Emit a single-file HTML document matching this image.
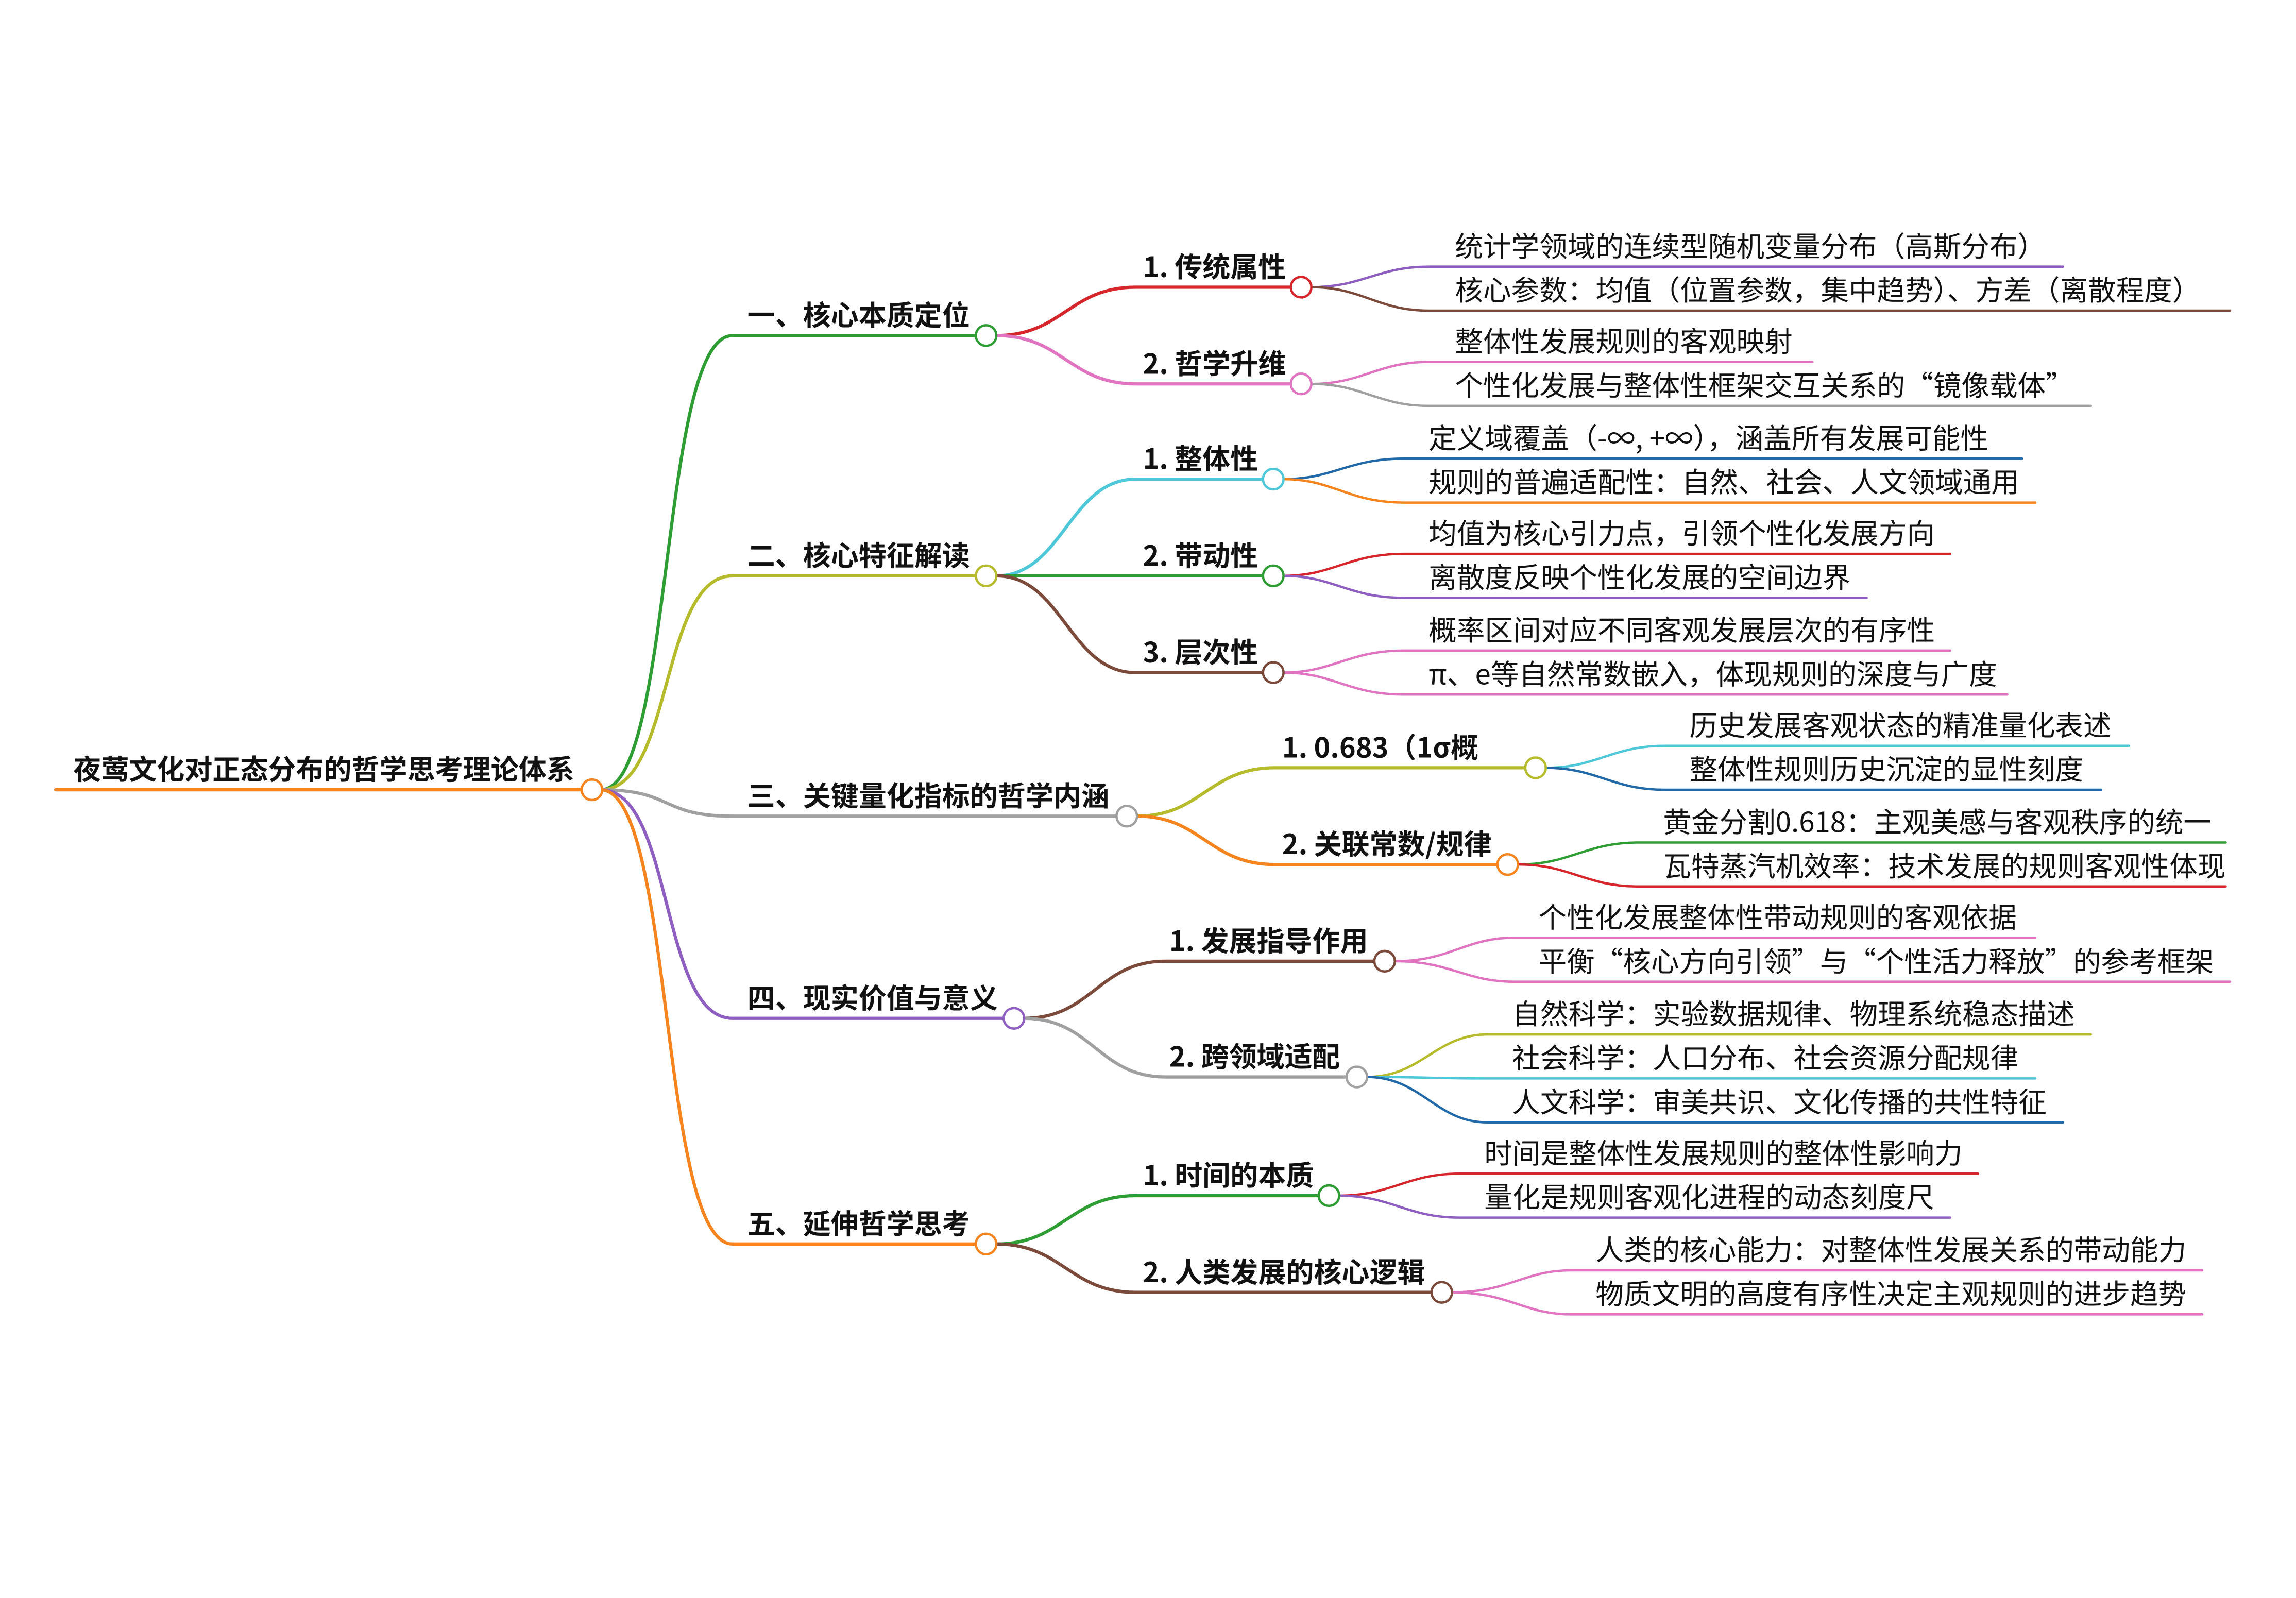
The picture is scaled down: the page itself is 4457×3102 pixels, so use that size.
<!DOCTYPE html>
<html><head><meta charset="utf-8"><style>
html,body{margin:0;padding:0;background:#fff;}
svg{display:block;}
text{font-family:"Noto Sans CJK SC","Liberation Sans",sans-serif;fill:#111;}
.b{font-weight:bold;font-size:19px;}
.l{font-size:19.2px;}
path{fill:none;stroke-linecap:round;}
.t1{stroke-width:2.2;}
.t3{stroke-width:1.6;}
circle{fill:#fff;stroke-width:1.6;}
</style></head><body>
<svg width="4457" height="3102" viewBox="0 0 1567 1090.6" xmlns="http://www.w3.org/2000/svg">
<path class="t1" d="M38,539 H398" stroke="#f5841f"/>
<text class="b" x="50" y="532">夜莺文化对正态分布的哲学思考理论体系</text>
<path class="t1" stroke="#2e9e34" d="M410,539 C 460,539 450,229 500,229 H666"/>
<path class="t1" stroke="#b6bb2b" d="M410,539 C 460,539 450,393 500,393 H666"/>
<path class="t1" stroke="#a0a0a0" d="M410,539 C 460,539 450,557 500,557 H762"/>
<path class="t1" stroke="#8e5fc0" d="M410,539 C 460,539 450,695 500,695 H685"/>
<path class="t1" stroke="#f5841f" d="M410,539 C 460,539 450,849 500,849 H666"/>
<circle cx="404" cy="539" r="7" stroke="#f5841f"/>
<text class="b" x="510" y="222">一、核心本质定位</text>
<text class="b" x="510" y="386">二、核心特征解读</text>
<text class="b" x="510" y="550">三、关键量化指标的哲学内涵</text>
<text class="b" x="510" y="688">四、现实价值与意义</text>
<text class="b" x="510" y="842">五、延伸哲学思考</text>
<path class="t1" stroke="#d6262b" d="M680,229 C 725,229 730,196 775,196 H881"/>
<path class="t1" stroke="#e074c0" d="M680,229 C 725,229 730,262 775,262 H881"/>
<path class="t1" stroke="#4ec8d8" d="M680,393 C 725,393 730,327 775,327 H862"/>
<path class="t1" stroke="#2e9e34" d="M680,393 H862"/>
<path class="t1" stroke="#7b4a3a" d="M680,393 C 725,393 730,459 775,459 H862"/>
<path class="t1" stroke="#b6bb2b" d="M776,557 C 820,557 825,524 870,524 H1041"/>
<path class="t1" stroke="#f5841f" d="M776,557 C 820,557 825,590 870,590 H1022"/>
<path class="t1" stroke="#7b4a3a" d="M699,695 C 745,695 750,656 795,656 H938"/>
<path class="t1" stroke="#a0a0a0" d="M699,695 C 745,695 750,735 795,735 H919"/>
<path class="t1" stroke="#2e9e34" d="M680,849 C 725,849 730,816 775,816 H900"/>
<path class="t1" stroke="#7b4a3a" d="M680,849 C 725,849 730,882 775,882 H977"/>
<circle cx="673" cy="229" r="7" stroke="#2e9e34"/>
<circle cx="673" cy="393" r="7" stroke="#b6bb2b"/>
<circle cx="769" cy="557" r="7" stroke="#a0a0a0"/>
<circle cx="692" cy="695" r="7" stroke="#8e5fc0"/>
<circle cx="673" cy="849" r="7" stroke="#f5841f"/>
<text class="b" x="780" y="189">1. 传统属性</text>
<text class="b" x="780" y="255">2. 哲学升维</text>
<text class="b" x="780" y="320">1. 整体性</text>
<text class="b" x="780" y="386">2. 带动性</text>
<text class="b" x="780" y="452">3. 层次性</text>
<text class="b" x="875" y="517">1. 0.683（1σ概</text>
<text class="b" x="875" y="583">2. 关联常数/规律</text>
<text class="b" x="798" y="649">1. 发展指导作用</text>
<text class="b" x="798" y="728">2. 跨领域适配</text>
<text class="b" x="780" y="809">1. 时间的本质</text>
<text class="b" x="780" y="875">2. 人类发展的核心逻辑</text>
<path class="t3" stroke="#8e5fc0" d="M895,196 C 930,196 940,182 975,182 H1408"/>
<path class="t3" stroke="#7b4a3a" d="M895,196 C 930,196 940,212 975,212 H1522"/>
<path class="t3" stroke="#e074c0" d="M895,262 C 930,262 940,247 975,247 H1237"/>
<path class="t3" stroke="#a0a0a0" d="M895,262 C 930,262 940,277 975,277 H1427"/>
<path class="t3" stroke="#2169a8" d="M876,327 C 910,327 920,313 958,313 H1380"/>
<path class="t3" stroke="#f5841f" d="M876,327 C 910,327 920,343 958,343 H1389"/>
<path class="t3" stroke="#d6262b" d="M876,393 C 910,393 920,378 958,378 H1331"/>
<path class="t3" stroke="#8e5fc0" d="M876,393 C 910,393 920,408 958,408 H1274"/>
<path class="t3" stroke="#e074c0" d="M876,459 C 910,459 920,444 958,444 H1331"/>
<path class="t3" stroke="#e074c0" d="M876,459 C 910,459 920,474 958,474 H1370"/>
<path class="t3" stroke="#4ec8d8" d="M1055,524 C 1090,524 1100,509 1136,509 H1453"/>
<path class="t3" stroke="#2169a8" d="M1055,524 C 1090,524 1100,539 1136,539 H1434"/>
<path class="t3" stroke="#2e9e34" d="M1036,590 C 1072,590 1082,575 1118,575 H1519"/>
<path class="t3" stroke="#d6262b" d="M1036,590 C 1072,590 1082,605 1118,605 H1519"/>
<path class="t3" stroke="#e074c0" d="M952,656 C 990,656 1000,640 1033,640 H1389"/>
<path class="t3" stroke="#e074c0" d="M952,656 C 990,656 1000,670 1033,670 H1522"/>
<path class="t3" stroke="#b6bb2b" d="M933,735 C 970,735 980,706 1015,706 H1427"/>
<path class="t3" stroke="#4ec8d8" d="M933,735 C 970,735 980,736 1015,736 H1389"/>
<path class="t3" stroke="#2169a8" d="M933,735 C 970,735 980,766 1015,766 H1408"/>
<path class="t3" stroke="#d6262b" d="M914,816 C 950,816 960,801 996,801 H1350"/>
<path class="t3" stroke="#8e5fc0" d="M914,816 C 950,816 960,831 996,831 H1331"/>
<path class="t3" stroke="#e074c0" d="M991,882 C 1030,882 1040,867 1072,867 H1503"/>
<path class="t3" stroke="#e074c0" d="M991,882 C 1030,882 1040,897 1072,897 H1503"/>
<circle cx="888" cy="196" r="7" stroke="#d6262b"/>
<circle cx="888" cy="262" r="7" stroke="#e074c0"/>
<circle cx="869" cy="327" r="7" stroke="#4ec8d8"/>
<circle cx="869" cy="393" r="7" stroke="#2e9e34"/>
<circle cx="869" cy="459" r="7" stroke="#7b4a3a"/>
<circle cx="1048" cy="524" r="7" stroke="#b6bb2b"/>
<circle cx="1029" cy="590" r="7" stroke="#f5841f"/>
<circle cx="945" cy="656" r="7" stroke="#7b4a3a"/>
<circle cx="926" cy="735" r="7" stroke="#a0a0a0"/>
<circle cx="907" cy="816" r="7" stroke="#2e9e34"/>
<circle cx="984" cy="882" r="7" stroke="#7b4a3a"/>
<text class="l" x="993" y="175">统计学领域的连续型随机变量分布（高斯分布）</text>
<text class="l" x="993" y="205">核心参数：均值（位置参数，集中趋势）、方差（离散程度）</text>
<text class="l" x="993" y="240">整体性发展规则的客观映射</text>
<text class="l" x="993" y="270">个性化发展与整体性框架交互关系的“镜像载体”</text>
<text class="l" x="975" y="306">定义域覆盖（-∞, +∞），涵盖所有发展可能性</text>
<text class="l" x="975" y="336">规则的普遍适配性：自然、社会、人文领域通用</text>
<text class="l" x="975" y="371">均值为核心引力点，引领个性化发展方向</text>
<text class="l" x="975" y="401">离散度反映个性化发展的空间边界</text>
<text class="l" x="975" y="437">概率区间对应不同客观发展层次的有序性</text>
<text class="l" x="975" y="467">π、e等自然常数嵌入，体现规则的深度与广度</text>
<text class="l" x="1153" y="502">历史发展客观状态的精准量化表述</text>
<text class="l" x="1153" y="532">整体性规则历史沉淀的显性刻度</text>
<text class="l" x="1135" y="568">黄金分割0.618：主观美感与客观秩序的统一</text>
<text class="l" x="1135" y="598">瓦特蒸汽机效率：技术发展的规则客观性体现</text>
<text class="l" x="1050" y="633">个性化发展整体性带动规则的客观依据</text>
<text class="l" x="1050" y="663">平衡“核心方向引领”与“个性活力释放”的参考框架</text>
<text class="l" x="1032" y="699">自然科学：实验数据规律、物理系统稳态描述</text>
<text class="l" x="1032" y="729">社会科学：人口分布、社会资源分配规律</text>
<text class="l" x="1032" y="759">人文科学：审美共识、文化传播的共性特征</text>
<text class="l" x="1013" y="794">时间是整体性发展规则的整体性影响力</text>
<text class="l" x="1013" y="824">量化是规则客观化进程的动态刻度尺</text>
<text class="l" x="1089" y="860">人类的核心能力：对整体性发展关系的带动能力</text>
<text class="l" x="1089" y="890">物质文明的高度有序性决定主观规则的进步趋势</text>
</svg>
</body></html>
